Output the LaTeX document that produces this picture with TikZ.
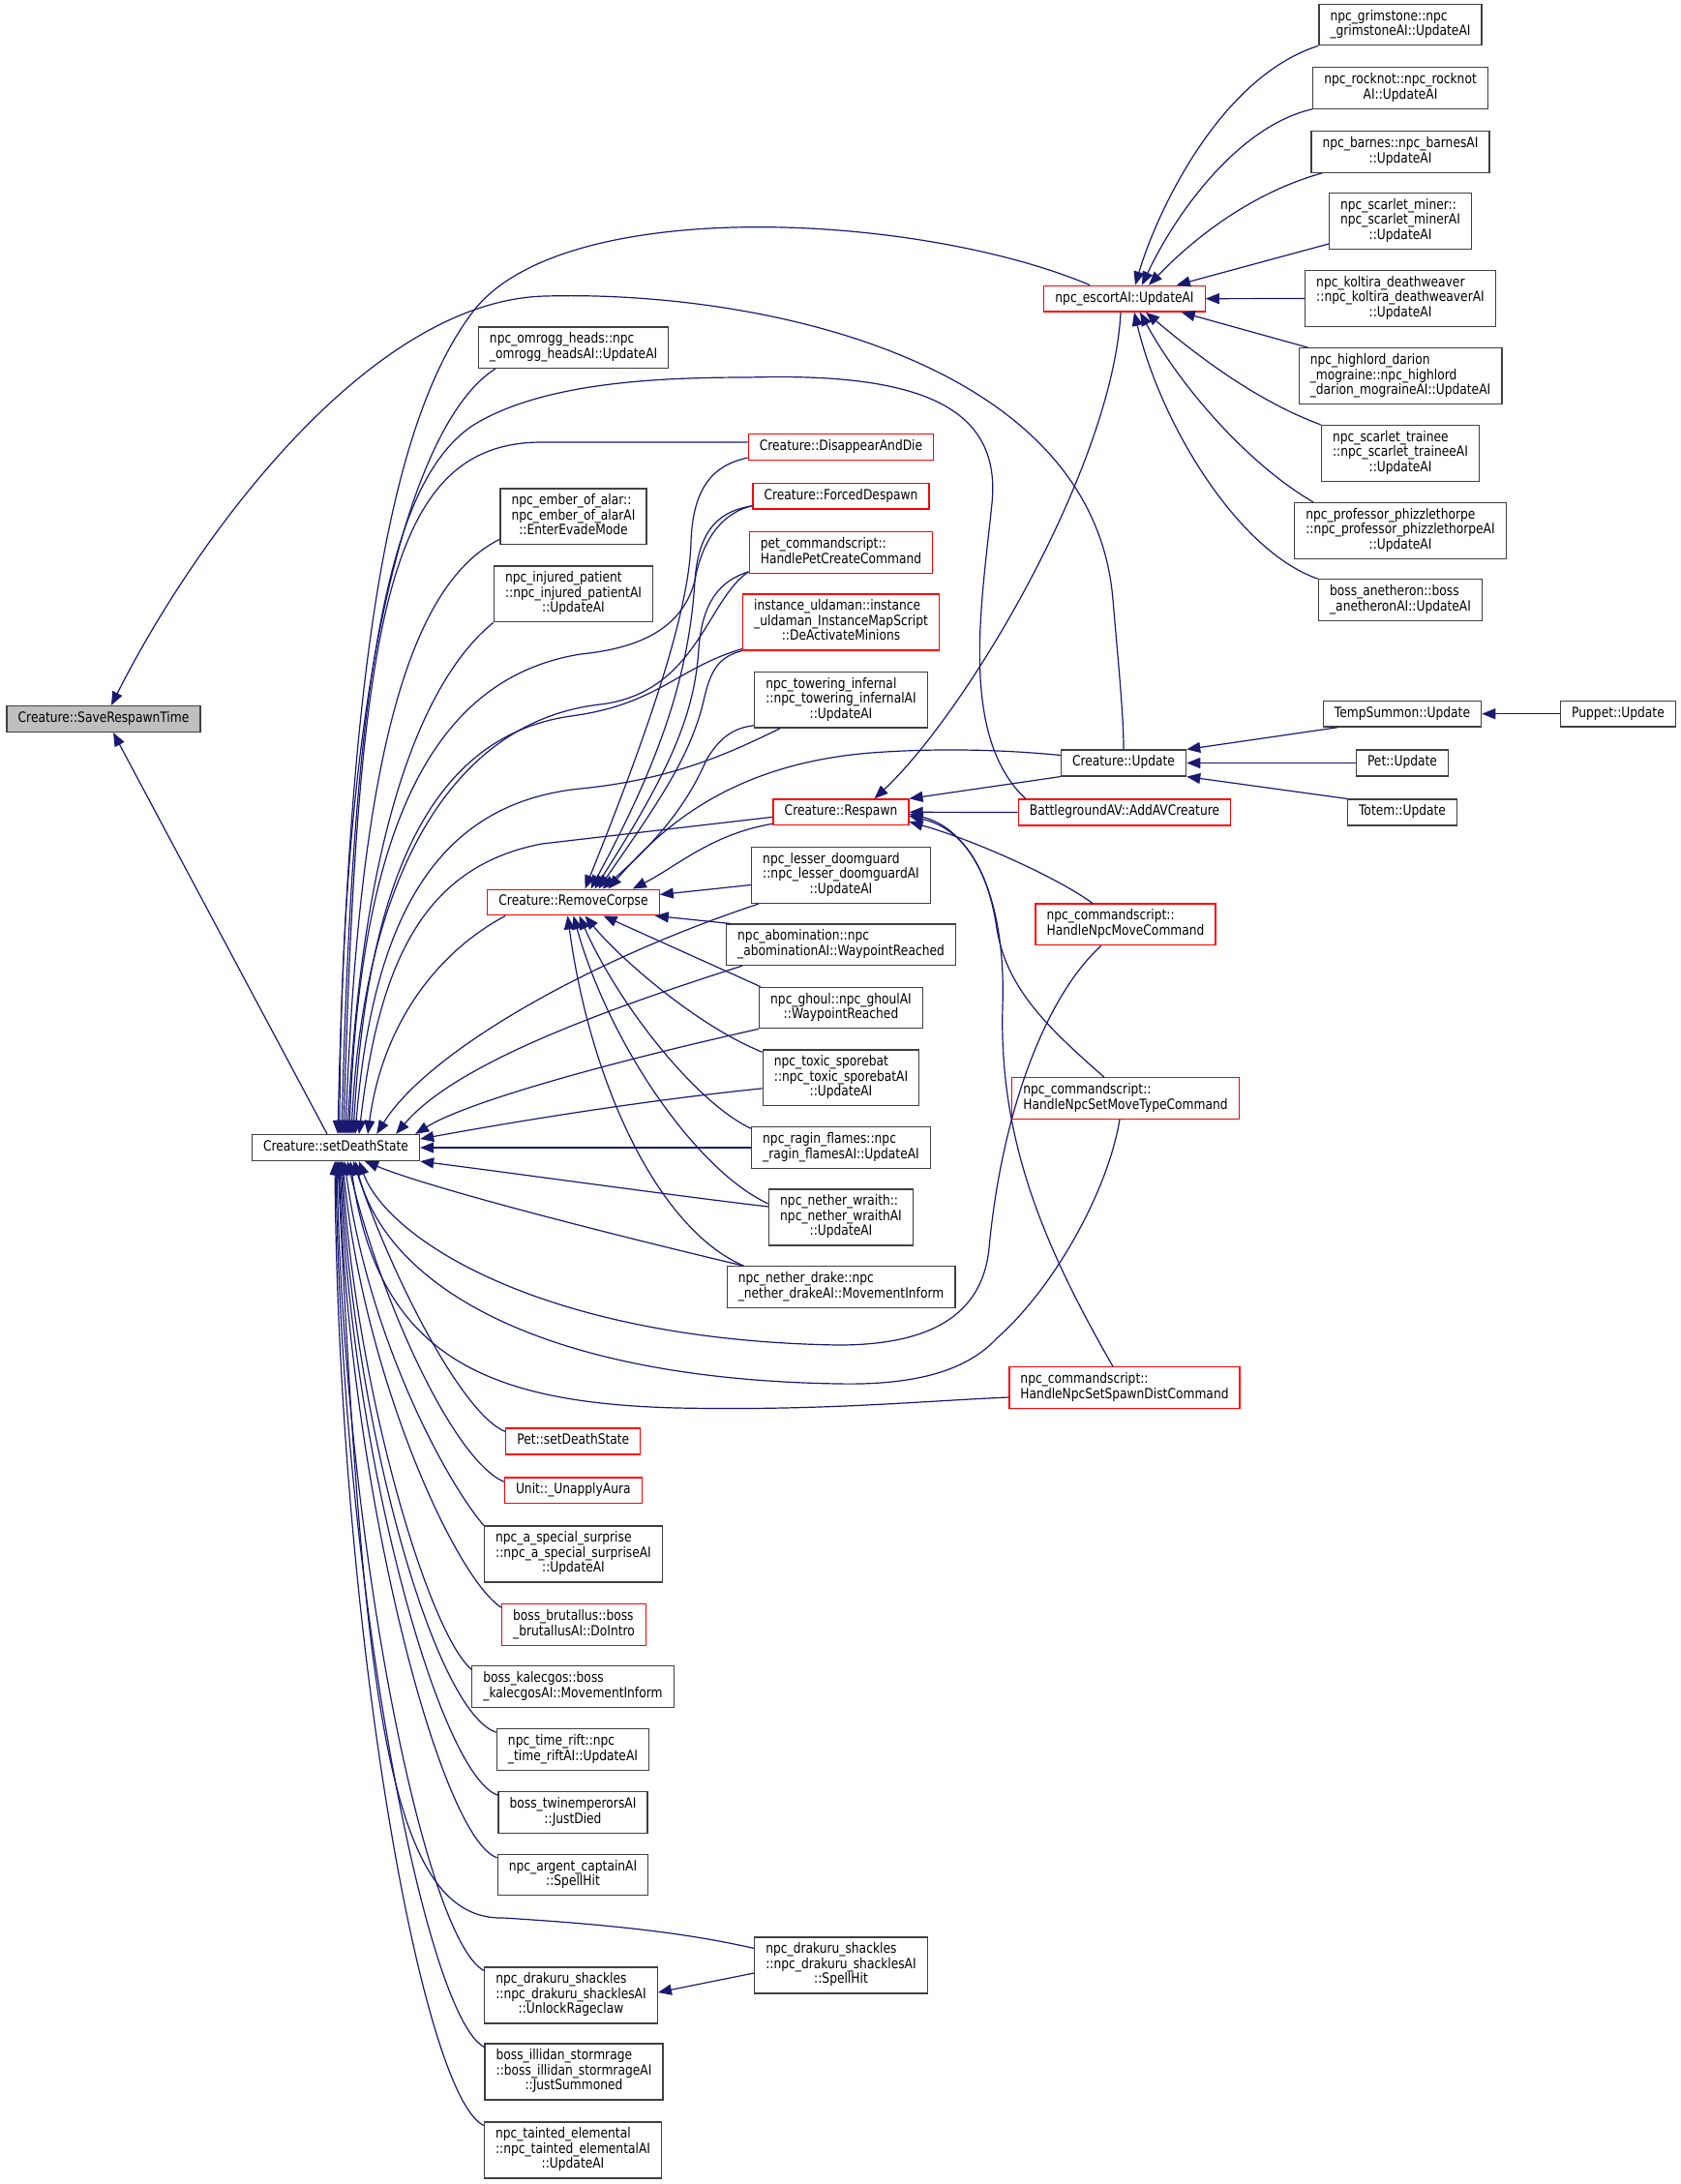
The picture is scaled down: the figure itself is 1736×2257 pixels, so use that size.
\documentclass[tikz,border=0pt]{standalone}
\usepackage{fontspec}
\setmainfont{DejaVu Sans}[FakeStretch=0.84]
\usetikzlibrary{arrows.meta,calc}
\definecolor{edgeBlue}{HTML}{191970}
\definecolor{boxRed}{HTML}{FF0000}
\definecolor{boxLine}{HTML}{404040}
\definecolor{boxGray}{HTML}{BFBFBF}
\newcommand\nodefont{\fontsize{7.3}{7.3}\selectfont}
\newcommand\oline[1]{\begin{tabular}{@{}c@{}}#1\end{tabular}}
\newcommand\nlines[2]{\begin{tabular}{@{}l@{}}#1\\\multicolumn{1}{@{}c@{}}{#2}\end{tabular}}

\begin{document}
\begin{tikzpicture}[x=0.5pt, y=-0.5pt,
    fn/.style={draw=boxLine, line width=0.65pt, fill=white, inner xsep=5.8pt, inner ysep=2.85pt, font=\nodefont},
    fnred/.style={fn, draw=boxRed},
    fncur/.style={fn, fill=boxGray},
    call/.style={{Triangle[length=7pt,width=5.5pt]}-, draw=edgeBlue, line width=0.6pt}
]
    \fill[white] (0,0) rectangle (1736,2257);
    \useasboundingbox (0,0) rectangle (1736,2257);

    % Main functions
    \node[fncur] (srt) at (107,743) {\oline{Creature::SaveRespawnTime}};
    \node[fn] (sds) at (347,1186) {\oline{Creature::setDeathState}};
    \node[fnred] (esc) at (1162,308.7) {\oline{npc\_escortAI::UpdateAI}};

    % Callers of setDeathState
    \node[fn] (omr) at (592.6,359.3) {\nlines{npc\_omrogg\_heads::npc}{\_omrogg\_headsAI::UpdateAI}};
    \node[fn] (ember) at (592.5,533.8) {\nlines{npc\_ember\_of\_alar::\\npc\_ember\_of\_alarAI}{::EnterEvadeMode}};
    \node[fn] (injp) at (592.5,613.8) {\nlines{npc\_injured\_patient\\::npc\_injured\_patientAI}{::UpdateAI}};
    \node[fnred] (rmc) at (592.5,932.5) {\oline{Creature::RemoveCorpse}};
    \node[fnred] (petsds) at (592.3,1489.5) {\oline{Pet::setDeathState}};
    \node[fnred] (unap) at (592.3,1540.3) {\oline{Unit::\_UnapplyAura}};
    \node[fn] (spec) at (592.5,1606) {\nlines{npc\_a\_special\_surprise\\::npc\_a\_special\_surpriseAI}{::UpdateAI}};
    \node[fnred] (brut) at (593,1679) {\nlines{boss\_brutallus::boss}{\_brutallusAI::DoIntro}};
    \node[fn] (kal) at (592,1743) {\nlines{boss\_kalecgos::boss}{\_kalecgosAI::MovementInform}};
    \node[fn] (rift) at (592,1808) {\nlines{npc\_time\_rift::npc}{\_time\_riftAI::UpdateAI}};
    \node[fn] (twin) at (592,1873) {\nlines{boss\_twinemperorsAI}{::JustDied}};
    \node[fn] (arg) at (592,1937.6) {\nlines{npc\_argent\_captainAI}{::SpellHit}};
    \node[fn] (rage) at (590,2062) {\nlines{npc\_drakuru\_shackles\\::npc\_drakuru\_shacklesAI}{::UnlockRageclaw}};
    \node[fn] (illi) at (593,2141) {\nlines{boss\_illidan\_stormrage\\::boss\_illidan\_stormrageAI}{::JustSummoned}};
    \node[fn] (taint) at (592,2222) {\nlines{npc\_tainted\_elemental\\::npc\_tainted\_elementalAI}{::UpdateAI}};

    % Middle column
    \node[fnred] (dad) at (869,462) {\oline{Creature::DisappearAndDie}};
    \node[fnred] (fdesp) at (869,512.7) {\oline{Creature::ForcedDespawn}};
    \node[fnred] (petcmd) at (869,571) {\nlines{pet\_commandscript::}{HandlePetCreateCommand}};
    \node[fnred] (ulda) at (869,643) {\nlines{instance\_uldaman::instance\\\_uldaman\_InstanceMapScript}{::DeActivateMinions}};
    \node[fn] (tower) at (869,723.2) {\nlines{npc\_towering\_infernal\\::npc\_towering\_infernalAI}{::UpdateAI}};
    \node[fnred] (resp) at (869,839.3) {\oline{Creature::Respawn}};
    \node[fn] (doom) at (869,904.5) {\nlines{npc\_lesser\_doomguard\\::npc\_lesser\_doomguardAI}{::UpdateAI}};
    \node[fn] (abom) at (869,976.3) {\nlines{npc\_abomination::npc}{\_abominationAI::WaypointReached}};
    \node[fn] (ghoul) at (869,1041.5) {\nlines{npc\_ghoul::npc\_ghoulAI}{::WaypointReached}};
    \node[fn] (spore) at (869,1113.8) {\nlines{npc\_toxic\_sporebat\\::npc\_toxic\_sporebatAI}{::UpdateAI}};
    \node[fn] (ragin) at (869,1186) {\nlines{npc\_ragin\_flames::npc}{\_ragin\_flamesAI::UpdateAI}};
    \node[fn] (wraith) at (869,1258) {\nlines{npc\_nether\_wraith::\\npc\_nether\_wraithAI}{::UpdateAI}};
    \node[fn] (drake) at (869,1330) {\nlines{npc\_nether\_drake::npc}{\_nether\_drakeAI::MovementInform}};
    \node[fn] (spell) at (869,2031) {\nlines{npc\_drakuru\_shackles\\::npc\_drakuru\_shacklesAI}{::SpellHit}};

    % Right columns
    \node[fn] (cupd) at (1161,788.5) {\oline{Creature::Update}};
    \node[fnred] (avc) at (1162,839.5) {\oline{BattlegroundAV::AddAVCreature}};
    \node[fnred] (movecmd) at (1163,955.3) {\nlines{npc\_commandscript::}{HandleNpcMoveCommand}};
    \node[fnred] (mtcmd) at (1163,1135) {\nlines{npc\_commandscript::}{HandleNpcSetMoveTypeCommand}};
    \node[fnred] (sdcmd) at (1162,1434) {\nlines{npc\_commandscript::}{HandleNpcSetSpawnDistCommand}};
    \node[fn] (grim) at (1447,25.5) {\nlines{npc\_grimstone::npc}{\_grimstoneAI::UpdateAI}};
    \node[fn] (rock) at (1447,91) {\nlines{npc\_rocknot::npc\_rocknot}{AI::UpdateAI}};
    \node[fn] (barn) at (1447,157) {\nlines{npc\_barnes::npc\_barnesAI}{::UpdateAI}};
    \node[fn] (miner) at (1447,228.5) {\nlines{npc\_scarlet\_miner::\\npc\_scarlet\_minerAI}{::UpdateAI}};
    \node[fn] (kolt) at (1447,308.5) {\nlines{npc\_koltira\_deathweaver\\::npc\_koltira\_deathweaverAI}{::UpdateAI}};
    \node[fn] (high) at (1447,388.7) {\nlines{npc\_highlord\_darion\\\_mograine::npc\_highlord}{\_darion\_mograineAI::UpdateAI}};
    \node[fn] (train) at (1447,468.5) {\nlines{npc\_scarlet\_trainee\\::npc\_scarlet\_traineeAI}{::UpdateAI}};
    \node[fn] (phiz) at (1447,548.5) {\nlines{npc\_professor\_phizzlethorpe\\::npc\_professor\_phizzlethorpeAI}{::UpdateAI}};
    \node[fn] (anet) at (1447,620) {\nlines{boss\_anetheron::boss}{\_anetheronAI::UpdateAI}};
    \node[fn] (temps) at (1449,737.7) {\oline{TempSummon::Update}};
    \node[fn] (petu) at (1449,788.5) {\oline{Pet::Update}};
    \node[fn] (totem) at (1449,839.5) {\oline{Totem::Update}};
    \node[fn] (pupp) at (1672,737.7) {\oline{Puppet::Update}};

    % Calls into SaveRespawnTime
    \draw[call] ($(srt.south)+(10,0)$) -- ($(sds.north)+(-9,0)$);
    \draw[call] ($(srt.north)+(8,0)$) .. controls (200,560) and (380,310) .. (564,306)
        .. controls (780,300) and (1130,370) .. (1150,620)
        .. controls (1156,690) and (1161,740) .. (cupd.north);

    % Calls into escortAI
    \draw[call] ($(esc.north)+(11,0)$) .. controls (1195,220) and (1260,80) .. (grim.south west);
    \draw[call] ($(esc.north)+(18,0)$) .. controls (1215,220) and (1280,130) .. (rock.south west);
    \draw[call] ($(esc.north)+(25,0)$) .. controls (1230,250) and (1290,200) .. ($(barn.south west)+(12,0)$);
    \draw[call] ($(esc.north east)+(-30,0)$) -- ($(miner.south west)+(0,-6)$);
    \draw[call] (esc.east) -- (kolt.west);
    \draw[call] ($(esc.south east)+(-25,0)$) -- ($(high.north west)+(10,0)$);
    \draw[call] ($(esc.south)+(22,0)$) .. controls (1240,370) and (1300,415) .. (train.north west);
    \draw[call] ($(esc.south)+(16,0)$) .. controls (1220,400) and (1290,480) .. ($(phiz.north west)+(20,0)$);
    \draw[call] ($(esc.south)+(10,0)$) .. controls (1200,440) and (1280,570) .. (anet.north west);

    % Calls into Creature::Update and TempSummon::Update
    \draw[call] (cupd.north east) -- ($(temps.south west)+(15,0)$);
    \draw[call] (cupd.east) -- (petu.west);
    \draw[call] (cupd.south east) -- (totem.north west);
    \draw[call] (temps.east) -- (pupp.west);

    % Call into UnlockRageclaw
    \draw[call] ($(rage.east)+(0,-3)$) -- ($(spell.west)+(0,8)$);

    % Calls into Respawn
    \draw[call] ($(resp.north east)+(-36,0)$) .. controls (1000,735) and (1150,480) .. ($(esc.south)+(-4,0)$);
    \draw[call] (resp.north east) -- (cupd.south west);
    \draw[call] (resp.east) -- (avc.west);
    \draw[call] ($(resp.east)+(0,10)$) .. controls (1000,866) and (1090,905) .. ($(movecmd.north)+(-34,0)$);
    \draw[call] ($(resp.east)+(0,4)$) .. controls (990,855) and (1020,890) .. (1030,960)
        .. controls (1040,1020) and (1080,1060) .. ($(mtcmd.north)+(-22,0)$);
    \draw[call] ($(resp.east)+(0,2)$) .. controls (1000,855) and (1040,920) .. (1036,1040)
        .. controls (1032,1180) and (1080,1290) .. ($(sdcmd.north)+(-12,0)$);

    % Calls into RemoveCorpse
    \draw[call] ($(rmc.north)+(12,0)$) .. controls (660,780) and (712,640) .. (714,560)
        .. controls (716,500) and (740,480) .. ($(dad.south west)+(0,-3)$);
    \draw[call] ($(rmc.north)+(18,0)$) .. controls (680,790) and (712,700) .. (718,600)
        .. controls (722,545) and (745,528) .. ($(fdesp.south west)+(0,-4)$);
    \draw[call] ($(rmc.north)+(22,0)$) .. controls (690,800) and (718,740) .. (722,670)
        .. controls (726,620) and (745,600) .. ($(petcmd.south west)+(0,-2)$);
    \draw[call] ($(rmc.north)+(26,0)$) .. controls (680,830) and (715,780) .. (728,720)
        .. controls (735,690) and (745,678) .. (ulda.south west);
    \draw[call] ($(rmc.north)+(30,0)$) .. controls (690,860) and (715,820) .. (730,785)
        .. controls (745,760) and (760,752) .. ($(tower.south west)+(0,-3)$);
    \draw[call] ($(rmc.north)+(36,0)$) .. controls (680,860) and (750,790) .. (900,778)
        .. controls (980,772) and (1050,776) .. ($(cupd.west)+(0,-8)$);
    \draw[call] ($(rmc.north east)+(-28,0)$) .. controls (700,895) and (735,862) .. ($(resp.south west)+(0,-2)$);
    \draw[call] ($(rmc.east)+(0,-8)$) -- ($(doom.west)+(0,10)$);
    \draw[call] ($(rmc.south east)+(-5,0)$) -- ($(abom.north west)+(5,0)$);
    \draw[call] ($(rmc.south)+(31,0)$) -- ($(ghoul.north west)+(2,0)$);
    \draw[call] ($(rmc.south)+(12,0)$) .. controls (640,990) and (720,1060) .. ($(spore.north west)+(0,3)$);
    \draw[call] ($(rmc.south)+(6,0)$) .. controls (640,1040) and (720,1140) .. ($(ragin.north west)+(0,2)$);
    \draw[call] (rmc.south) .. controls (630,1080) and (720,1210) .. ($(wraith.west)+(0,-14)$);
    \draw[call] ($(rmc.south)+(-6,0)$) .. controls (610,1120) and (680,1270) .. ($(drake.north west)+(18,0)$);

    % Calls into setDeathState from above
    \draw[call] ($(sds.north)+(2,0)$) .. controls (360,700) and (400,440) .. (488,323)
        .. controls (580,200) and (950,220) .. ($(esc.north west)+(48,0)$);
    \draw[call] ($(sds.north)+(4,0)$) .. controls (352,720) and (420,440) .. ($(omr.south west)+(18,0)$);
    \draw[call] ($(sds.north)+(6,0)$) .. controls (365,700) and (400,500) .. (488,440)
        .. controls (560,395) and (680,390) .. (774,390)
        .. controls (950,385) and (1035,420) .. (1025,520)
        .. controls (1015,620) and (990,760) .. ($(avc.north west)+(8,0)$);
    \draw[call] ($(sds.north)+(8,0)$) .. controls (370,640) and (400,457) .. (560,457) -- ($(dad.west)+(0,-5)$);
    \draw[call] ($(sds.north)+(10,0)$) .. controls (372,760) and (430,600) .. ($(ember.south west)+(0,-6)$);
    \draw[call] ($(sds.north)+(12,0)$) .. controls (375,850) and (440,700) .. (injp.south west);
    \draw[call] ($(sds.north)+(14,0)$) .. controls (372,850) and (450,700) .. (600,676)
        .. controls (660,670) and (705,650) .. (718,600)
        .. controls (725,560) and (745,530) .. ($(fdesp.south west)+(0,-4)$);
    \draw[call] ($(sds.north)+(16,0)$) .. controls (376,900) and (470,745) .. (620,728)
        .. controls (720,716) and (730,620) .. ($(petcmd.south west)+(0,-2)$);
    \draw[call] ($(sds.north)+(18,0)$) .. controls (380,900) and (450,760) .. (590,740)
        .. controls (680,728) and (700,690) .. ($(ulda.south west)+(0,-2)$);
    \draw[call] ($(sds.north)+(20,0)$) .. controls (385,950) and (450,830) .. (600,815)
        .. controls (700,805) and (760,775) .. ($(tower.south west)+(27,0)$);
    \draw[call] ($(sds.north)+(24,0)$) .. controls (392,990) and (440,895) .. (560,872) -- ($(resp.west)+(0,5)$);
    \draw[call] ($(sds.north)+(33,0)$) .. controls (395,1060) and (450,985) .. ($(rmc.south west)+(19,0)$);

    % Calls into setDeathState from the right
    \draw[call] ($(sds.north east)+(-45,0)$) .. controls (440,1090) and (600,995) .. ($(doom.south west)+(8,0)$);
    \draw[call] ($(sds.north east)+(-25,0)$) .. controls (470,1100) and (620,1045) .. ($(abom.south west)+(17,0)$);
    \draw[call] ($(sds.north east)+(-5,0)$) .. controls (480,1140) and (620,1100) .. (ghoul.south west);
    \draw[call] ($(sds.east)+(0,-9)$) .. controls (500,1165) and (640,1140) .. ($(spore.west)+(0,11)$);
    \draw[call] (sds.east) -- (ragin.west);
    \draw[call] (sds.south east) .. controls (550,1215) and (700,1236) .. ($(wraith.west)+(0,-11)$);
    \draw[call] ($(sds.south)+(30,0)$) .. controls (450,1230) and (650,1280) .. ($(drake.north west)+(18,0)$);
    \draw[call] ($(sds.south)+(24,0)$) .. controls (400,1280) and (560,1385) .. (866,1390)
        .. controls (960,1390) and (1015,1360) .. (1022,1290)
        .. controls (1035,1150) and (1080,1030) .. ($(movecmd.south)+(-25,0)$);
    \draw[call] ($(sds.south)+(20,0)$) .. controls (400,1330) and (560,1425) .. (866,1430)
        .. controls (960,1432) and (1005,1410) .. (1030,1383)
        .. controls (1090,1330) and (1145,1230) .. ($(mtcmd.south)+(-6,0)$);
    \draw[call] ($(sds.south)+(15,0)$) .. controls (390,1400) and (500,1450) .. (700,1455)
        .. controls (850,1458) and (950,1448) .. ($(sdcmd.west)+(0,10)$);

    % Calls into setDeathState from below
    \draw[call] ($(sds.south)+(18,0)$) .. controls (405,1320) and (478,1462) .. ($(petsds.north west)+(0,4)$);
    \draw[call] ($(sds.south)+(12,0)$) .. controls (395,1350) and (470,1510) .. ($(unap.north west)+(0,5)$);
    \draw[call] ($(sds.south)+(9,0)$) .. controls (380,1380) and (460,1530) .. (spec.north west);
    \draw[call] ($(sds.south)+(7,0)$) .. controls (375,1420) and (470,1630) .. ($(brut.north west)+(0,4)$);
    \draw[call] ($(sds.south)+(6,0)$) .. controls (370,1450) and (445,1690) .. ($(kal.north west)+(0,4)$);
    \draw[call] ($(sds.south)+(5,0)$) .. controls (367,1480) and (450,1770) .. ($(rift.north west)+(0,4)$);
    \draw[call] ($(sds.south)+(4,0)$) .. controls (364,1510) and (455,1835) .. ($(twin.north west)+(0,4)$);
    \draw[call] ($(sds.south)+(3,0)$) .. controls (361,1540) and (455,1900) .. ($(arg.north west)+(0,4)$);
    \draw[call] ($(sds.south)+(2,0)$) .. controls (375,1750) and (400,1985) .. (520,1982)
        .. controls (650,1990) and (720,2000) .. ($(spell.north west)+(0,12)$);
    \draw[call] ($(sds.south)+(1,0)$) .. controls (356,1600) and (440,2005) .. ($(rage.north west)+(0,4)$);
    \draw[call] (sds.south) .. controls (353,1640) and (440,2085) .. ($(illi.north west)+(0,4)$);
    \draw[call] ($(sds.south)+(-1,0)$) .. controls (350,1680) and (435,2165) .. ($(taint.north west)+(0,4)$);
\end{tikzpicture}
\end{document}
